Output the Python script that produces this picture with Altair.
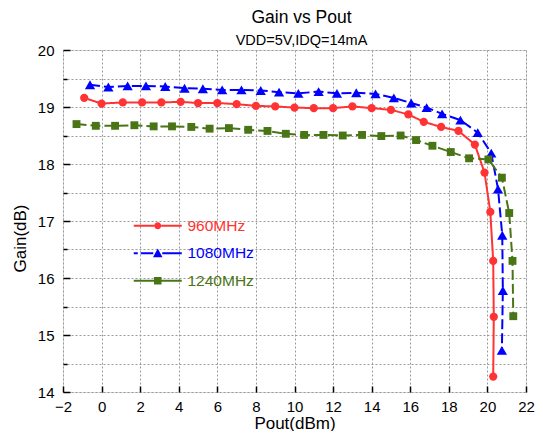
import altair as alt
import pandas as pd

series = ["960MHz", "1080MHz", "1240MHz"]
colors = ["#FF3333", "#0000FF", "#4A7516"]
shapes = ["circle", "triangle-up", "square"]
marker_sizes = [68, 105, 62]

red_x = [-0.9, 0.0, 1.1, 2.1, 3.1, 4.1, 5.0, 6.0, 7.0, 8.0, 9.0, 10.0, 11.0, 12.0,
         13.0, 14.0, 15.0, 15.9, 16.7, 17.6, 18.5, 19.35, 19.85, 20.15, 20.3, 20.33, 20.3]
red_y = [19.16, 19.06, 19.08, 19.08, 19.08, 19.09, 19.07, 19.07, 19.05, 19.02, 19.01,
         18.99, 18.98, 18.98, 19.01, 18.98, 18.95, 18.87, 18.74, 18.65, 18.58, 18.34,
         17.85, 17.16, 16.30, 15.32, 14.27]

blue_x = [-0.6, 0.35, 1.35, 2.3, 3.3, 4.3, 5.25, 6.25, 7.25, 8.25, 9.2, 10.2, 11.25,
          12.2, 13.2, 14.2, 15.15, 16.05, 16.85, 17.65, 18.6, 19.5, 20.2, 20.55, 20.77,
          20.8, 20.75]
blue_y = [19.39, 19.35, 19.37, 19.37, 19.36, 19.33, 19.32, 19.30, 19.30, 19.29, 19.26,
          19.24, 19.27, 19.24, 19.25, 19.23, 19.16, 19.07, 18.99, 18.88, 18.77, 18.55,
          18.19, 17.56, 16.75, 15.78, 14.73]

green_x = [-1.3, -0.3, 0.7, 1.7, 2.7, 3.65, 4.65, 5.6, 6.6, 7.6, 8.6, 9.55, 10.5, 11.5,
           12.5, 13.5, 14.5, 15.5, 16.3, 17.15, 18.1, 19.05, 20.05, 20.75, 21.13, 21.3,
           21.34]
green_y = [18.70, 18.67, 18.67, 18.68, 18.66, 18.66, 18.65, 18.62, 18.63, 18.60, 18.58,
           18.53, 18.51, 18.51, 18.50, 18.51, 18.49, 18.50, 18.42, 18.32, 18.21, 18.10,
           18.08, 17.76, 17.14, 16.30, 15.33]

x_ticks = [-2, 0, 2, 4, 6, 8, 10, 12, 14, 16, 18, 20, 22]
y_major = [14, 15, 16, 17, 18, 19, 20]
y_minor = [14.5, 15.5, 16.5, 17.5, 18.5, 19.5]
y_all = [14, 14.5, 15, 15.5, 16, 16.5, 17, 17.5, 18, 18.5, 19, 19.5, 20]

rows = []
for name, xs, ys in zip(series, [red_x, blue_x, green_x], [red_y, blue_y, green_y]):
    for i, (xv, yv) in enumerate(zip(xs, ys)):
        rows.append({"series": name, "pout": xv, "gain": yv, "idx": i})
df = pd.DataFrame(rows)

FONT = "Liberation Sans"
W, H = 463, 342
xscale = alt.Scale(domain=[-2, 22], nice=False, zero=False)
yscale = alt.Scale(domain=[14, 20], nice=False, zero=False)
color_scale = alt.Scale(domain=series, range=colors)

x_main = alt.Axis(values=x_ticks, title="Pout(dBm)", grid=True, gridColor="#9a9a9a",
                  gridDash=[2, 2], gridWidth=1, ticks=False, tickSize=0, domain=False,
                  labelPadding=7, labelFontSize=15, titleFontSize=17, labelFlush=False,
                  labelColor="black", titleColor="black", titleFontWeight="normal",
                  titlePadding=1, labelFont=FONT, titleFont=FONT)
y_main = alt.Axis(values=y_all, title="Gain(dB)", grid=True, gridColor="#9a9a9a",
                  gridDash=[2, 2], gridWidth=1, ticks=False, tickSize=0, domain=False,
                  labelPadding=9, labelFontSize=15, titleFontSize=17, labelFlush=False,
                  labelOverlap=False,
                  labelExpr="datum.value % 1 == 0 ? format(datum.value, 'd') : ''",
                  labelColor="black", titleColor="black", titleFontWeight="normal",
                  titlePadding=8, titleY=188, labelFont=FONT, titleFont=FONT)

base = alt.Chart(df)

lines = base.mark_line(strokeWidth=2).encode(
    x=alt.X("pout:Q", scale=xscale, axis=x_main),
    y=alt.Y("gain:Q", scale=yscale, axis=y_main),
    color=alt.Color("series:N", scale=color_scale, legend=None),
    strokeDash=alt.StrokeDash("series:N", scale=alt.Scale(domain=series, range=[[1, 0], [10, 4], [10, 4]]), legend=None),
    detail="series:N",
    order="idx:Q",
)

point_layers = []
for name, shp, sz in zip(series, shapes, marker_sizes):
    point_layers.append(
        base.transform_filter(alt.datum.series == name).mark_point(
            filled=True, opacity=1, strokeWidth=0, shape=shp, size=sz
        ).encode(
            x=alt.X("pout:Q", scale=xscale, axis=None),
            y=alt.Y("gain:Q", scale=yscale, axis=None),
            color=alt.Color("series:N", scale=color_scale, legend=None),
        )
    )

legend_paths = [
    "M-4.8,-0.2H-0.7V0.2H-4.8Z M0.7,-0.2H4.8V0.2H0.7Z M-0.7,0A0.7,0.7 0 1,1 0.7,0A0.7,0.7 0 1,1 -0.7,0Z",
    "M-4.8,-0.2H-4.0V0.2H-4.8Z M-3.4,-0.2H-0.9V0.2H-3.4Z M0,-0.95L0.95,0.8L-0.95,0.8Z M0.9,-0.2H4.8V0.2H0.9Z",
    "M-4.8,-0.2H-0.75V0.2H-4.8Z M-0.75,-0.75H0.75V0.75H-0.75Z M0.75,-0.2H4.8V0.2H0.75Z",
]
label_color = ("datum.value == '960MHz' ? '#FF3333' : "
               "(datum.value == '1080MHz' ? '#0000FF' : '#4A7516')")

leg = alt.Legend(
    title=None, orient="none", legendX=87, legendY=168, padding=0,
    symbolSize=100, symbolStrokeWidth=0, symbolOpacity=1,
    labelFontSize=15.5, labelFont=FONT, labelOffset=22, rowPadding=10.5,
    labelColor=alt.ExprRef(expr=label_color))

legend_layer = base.transform_filter("false").mark_point(filled=True, opacity=1, strokeWidth=0).encode(
    x=alt.X("pout:Q", scale=xscale, axis=None),
    y=alt.Y("gain:Q", scale=yscale, axis=None),
    fill=alt.Fill("series:N", scale=color_scale, legend=leg),
    shape=alt.Shape("series:N", scale=alt.Scale(domain=series, range=legend_paths), legend=leg),
)

tick_major = base.transform_filter("false").mark_point().encode(
    x=alt.X("pout:Q", scale=xscale, axis=alt.Axis(
        values=x_ticks, orient="bottom", offset=-6, ticks=True, tickSize=6, tickWidth=1.5,
        tickColor="black", labels=False, domain=False, grid=False, title=None)),
    y=alt.Y("gain:Q", scale=yscale, axis=alt.Axis(
        values=y_major, orient="left", offset=-7, ticks=True, tickSize=7, tickWidth=1.5,
        tickColor="black", labels=False, domain=False, grid=False, title=None)),
)

tick_minor = base.transform_filter("false").mark_point().encode(
    x=alt.X("pout:Q", scale=xscale, axis=None),
    y=alt.Y("gain:Q", scale=yscale, axis=alt.Axis(
        values=y_minor, orient="left", offset=-4, ticks=True, tickSize=4, tickWidth=1.5,
        tickColor="black", labels=False, domain=False, grid=False, title=None)),
)

chart = alt.layer(lines, *point_layers, legend_layer, tick_major, tick_minor).resolve_scale(
    fill="independent", shape="independent"
).resolve_legend(
    fill="independent", shape="independent"
).resolve_axis(
    x="independent", y="independent"
).properties(
    width=W, height=H,
    padding={"left": 55, "top": 42, "right": 9, "bottom": 39},
    autosize=alt.AutoSizeParams(type="none"),
    title=alt.TitleParams(
        text="Gain vs Pout", subtitle="VDD=5V,IDQ=14mA", fontSize=17.5, subtitleFontSize=14.5,
        font=FONT, subtitleFont=FONT, fontWeight="normal", color="black",
        subtitleColor="black", anchor="middle", frame="group", dx=7, offset=-4,
        subtitlePadding=7),
).configure_view(
    stroke="black", strokeWidth=2
).configure(background="white")

chart.save("out.html", embed_options={"renderer": "svg", "actions": False})
